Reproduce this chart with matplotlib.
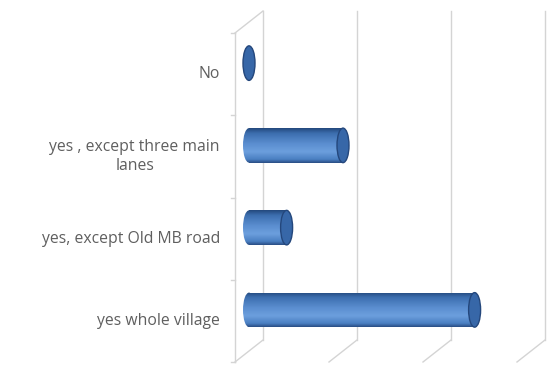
import numpy as np
import matplotlib
matplotlib.use("Agg")
import matplotlib.pyplot as plt
import matplotlib.transforms as mtransforms
from matplotlib.colors import LinearSegmentedColormap
from matplotlib.patches import Ellipse, Rectangle
from matplotlib.lines import Line2D

# survey answers, bottom to top
categories = ["yes whole village", "yes, except Old MB road",
              "yes , except three main\nlanes", "No"]
values = [24, 4, 10, 0]
grid_ticks = [0, 10, 20, 30]

W, H, DPI = 547, 367, 100
fig = plt.figure(figsize=(W / DPI, H / DPI), dpi=DPI)
fig.patch.set_facecolor("white")

# axes placed so that the middle depth plane of the 3d box fills it
x_lo, x_hi = -2, 32
px_per_unit = 9.4
left_px = 249 + x_lo * px_per_unit
right_px = 249 + x_hi * px_per_unit
top_px, bot_px = 22, 351
ax = fig.add_axes([left_px / W, (H - bot_px) / H,
                   (right_px - left_px) / W, (bot_px - top_px) / H])
ax.set_xlim(x_lo, x_hi)
ax.set_ylim(-0.5, 3.5)
ax.axis("off")

depth_dx, depth_dy = 14, 11
back = mtransforms.offset_copy(ax.transData, fig, x=depth_dx, y=depth_dy, units="dots")
front = mtransforms.offset_copy(ax.transData, fig, x=-depth_dx, y=-depth_dy, units="dots")
grid_c = "#d4d4d4"

# back wall gridlines and the floor edges running to the front
for v in grid_ticks:
    ax.plot([v, v], [-0.5, 3.5], color=grid_c, lw=1, transform=back, clip_on=False)
    p = ax.transData.transform((v, -0.5))
    fig.add_artist(Line2D([p[0] + depth_dx, p[0] - depth_dx],
                          [p[1] + depth_dy, p[1] - depth_dy],
                          color=grid_c, lw=1, transform=mtransforms.IdentityTransform()))

# left wall: front edge, top edge and category ticks
ax.plot([0, 0], [-0.5, 3.5], color=grid_c, lw=1, transform=front, clip_on=False)
p = ax.transData.transform((0, 3.5))
fig.add_artist(Line2D([p[0] - depth_dx, p[0] + depth_dx],
                      [p[1] - depth_dy, p[1] + depth_dy],
                      color=grid_c, lw=1, transform=mtransforms.IdentityTransform()))
tick_len = 4 / px_per_unit
for b in np.arange(-0.5, 4, 1):
    ax.plot([-tick_len, 0], [b, b], color=grid_c, lw=1, transform=front, clip_on=False)

# category labels centred on the front plane
for i, lab in enumerate(categories):
    ax.text(-1.6, i, lab, transform=front, ha="right", va="center",
            multialignment="center", fontsize=11.3, color="#5f5f5f",
            family="Open Sans", linespacing=1.2, clip_on=False)

# cylinder shading, top to bottom
shade = LinearSegmentedColormap.from_list("cyl", [
    (0.0, "#2a4f86"), (0.1, "#4a7fc2"), (0.32, "#6c9fdd"),
    (0.55, "#5b8ed0"), (0.85, "#3d6fb0"), (1.0, "#244a7e")])
grad = np.linspace(0, 1, 64).reshape(-1, 1)

bar_h = 0.42
cap_w = 12 / px_per_unit
for i, v in enumerate(values):
    y0, y1 = i - bar_h / 2, i + bar_h / 2
    if v > 0:
        body = Rectangle((0, y0), v, bar_h, transform=ax.transData)
        im = ax.imshow(grad, cmap=shade, aspect="auto", extent=[-cap_w, v, y1, y0],
                       interpolation="bilinear", zorder=3)
        im.set_clip_path(body)
        base = Ellipse((0, i), cap_w, bar_h, transform=ax.transData)
        im2 = ax.imshow(grad, cmap=shade, aspect="auto", extent=[-cap_w, v, y1, y0],
                        interpolation="bilinear", zorder=3)
        im2.set_clip_path(base)
    ax.add_patch(Ellipse((v, i), cap_w, bar_h, facecolor="#3767a8",
                         edgecolor="#24477c", lw=1.0, zorder=4))

ax.set_xlim(x_lo, x_hi)
ax.set_ylim(-0.5, 3.5)

fig.savefig("out.png", dpi=DPI)
